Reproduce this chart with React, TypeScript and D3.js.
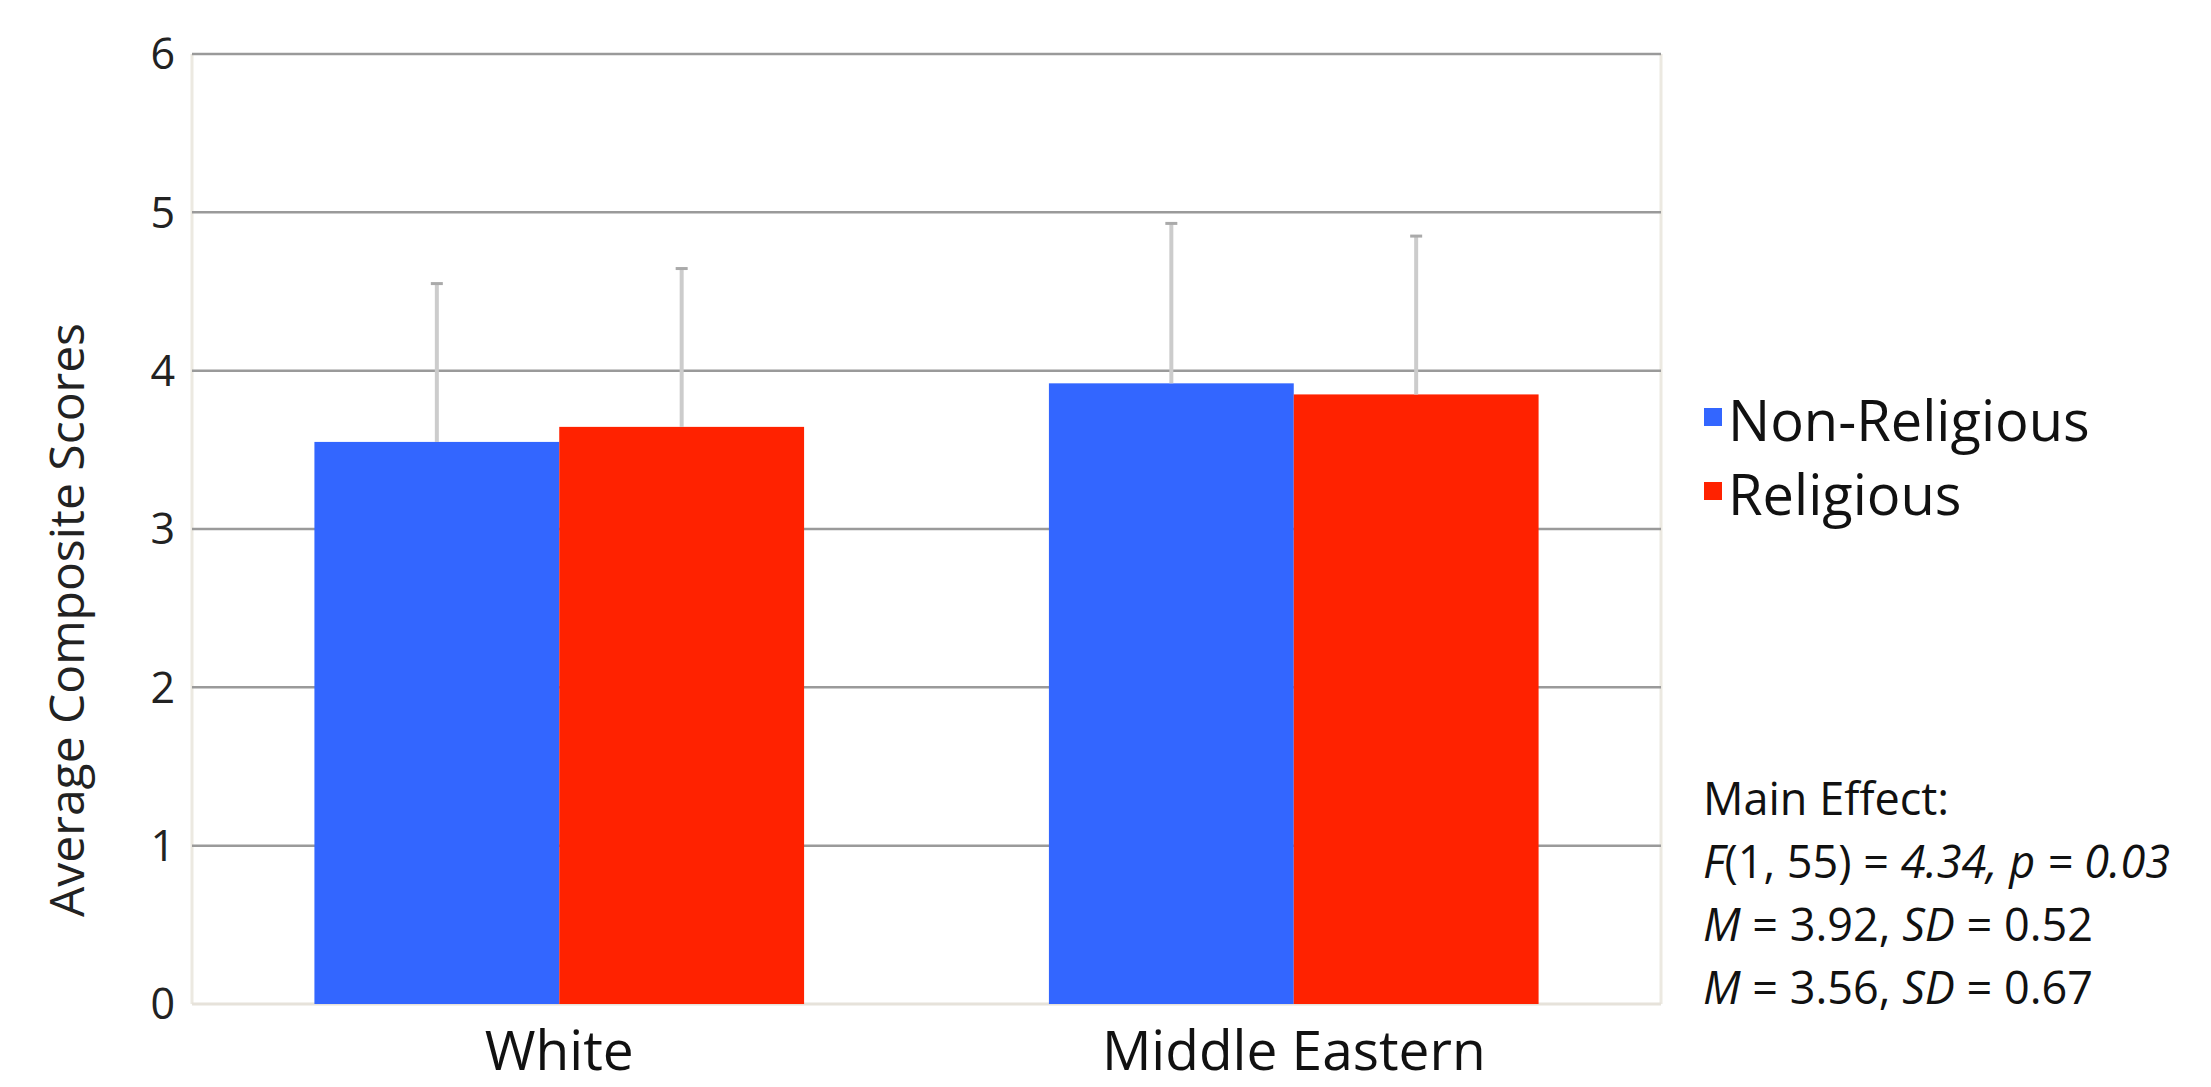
import React from "react";
import * as d3 from "d3";

const categories = ["White", "Middle Eastern"];
const seriesNames = ["Non-Religious", "Religious"];
const nonReligious = [3.55, 3.92];
const religious = [3.645, 3.85];
const errNonReligious = [1.0, 1.01];
const errReligious = [1.0, 1.0];
const yTicks = [0, 1, 2, 3, 4, 5, 6];
const annotationLines = [
  [{ t: "Main Effect:", i: false }],
  [
    { t: "F", i: true },
    { t: "(1, 55) = ", i: false },
    { t: "4.34, p = 0.03", i: true },
  ],
  [
    { t: "M", i: true },
    { t: " = 3.92, ", i: false },
    { t: "SD", i: true },
    { t: " = 0.52", i: false },
  ],
  [
    { t: "M", i: true },
    { t: " = 3.56, ", i: false },
    { t: "SD", i: true },
    { t: " = 0.67", i: false },
  ],
];

const W = 2211;
const H = 1087;
const FONT = "'Open Sans', sans-serif";
const colors = ["#3366ff", "#ff2200"];

export default function App() {
  const left = 192;
  const right = 1661;
  const top = 54;
  const bottom = 1004;

  const x0 = d3.scaleBand().domain(categories).range([left, right]).padding(0);
  const x1 = d3
    .scaleBand()
    .domain(seriesNames)
    .range([0, x0.bandwidth()])
    .paddingOuter(0.5)
    .paddingInner(0);
  const y = d3.scaleLinear().domain([0, 6]).range([bottom, top]);

  const values = [nonReligious, religious];
  const errs = [errNonReligious, errReligious];

  return (
    <svg
      width={W}
      height={H}
      style={{ position: "absolute", left: 0, top: 0, background: "#fff" }}
      fontFamily={FONT}
    >
      <rect x={0} y={0} width={W} height={H} fill="#fff" />
      {/* plot frame */}
      <line x1={left} x2={left} y1={top} y2={bottom} stroke="#ece9e1" strokeWidth={3} />
      <line x1={right} x2={right} y1={top} y2={bottom} stroke="#ece9e1" strokeWidth={3} />
      {yTicks.map((t) => (
        <line
          key={"g" + t}
          x1={left}
          x2={right}
          y1={y(t)}
          y2={y(t)}
          stroke={t === 0 ? "#e6e2da" : "#9a9a9a"}
          strokeWidth={t === 0 ? 3 : 2.5}
        />
      ))}
      {yTicks.map((t) => (
        <text
          key={"t" + t}
          x={175}
          y={y(t)}
          dy="0.36em"
          textAnchor="end"
          fontSize={43}
          fill="#222"
        >
          {t}
        </text>
      ))}
      {/* bars */}
      {categories.map((c, ci) =>
        seriesNames.map((s, si) => (
          <rect
            key={c + s}
            x={(x0(c) as number) + (x1(s) as number)}
            y={y(values[si][ci])}
            width={x1.bandwidth()}
            height={y(0) - y(values[si][ci])}
            fill={colors[si]}
          />
        ))
      )}
      {/* error bars */}
      {categories.map((c, ci) =>
        seriesNames.map((s, si) => {
          const cx = (x0(c) as number) + (x1(s) as number) + x1.bandwidth() / 2;
          const v = values[si][ci];
          const e = errs[si][ci];
          return (
            <g key={"e" + c + s}>
              <line x1={cx} x2={cx} y1={y(v)} y2={y(v + e)} stroke="#cccccc" strokeWidth={4} />
              <line x1={cx - 6} x2={cx + 6} y1={y(v + e)} y2={y(v + e)} stroke="#aaaaaa" strokeWidth={3} />
            </g>
          );
        })
      )}
      {/* x labels */}
      {categories.map((c) => (
        <text
          key={"x" + c}
          x={(x0(c) as number) + x0.bandwidth() / 2}
          y={1070}
          textAnchor="middle"
          fontSize={55}
          fill="#111"
        >
          {c}
        </text>
      ))}
      {/* y title */}
      <text
        transform="translate(84,620) rotate(-90)"
        textAnchor="middle"
        fontSize={48}
        fill="#222"
      >
        Average Composite Scores
      </text>
      {/* legend */}
      {seriesNames.map((s, i) => (
        <g key={"l" + s} transform={`translate(1704, ${441 + i * 74})`}>
          <rect x={0} y={-33} width={18} height={18} fill={colors[i]} />
          <text x={24} y={0} fontSize={56} fill="#111">
            {s}
          </text>
        </g>
      ))}
      {/* annotation */}
      {annotationLines.map((line, li) => (
        <text key={"a" + li} x={1703} y={815 + li * 63} fontSize={45} fill="#111">
          {line.map((seg, si) => (
            <tspan key={si} fontStyle={seg.i ? "italic" : "normal"} xmlSpace="preserve">
              {seg.t}
            </tspan>
          ))}
        </text>
      ))}
    </svg>
  );
}
